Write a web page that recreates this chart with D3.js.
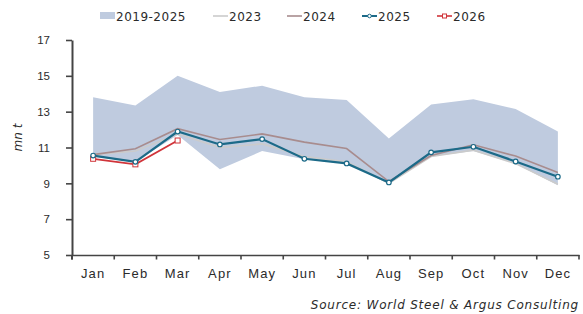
<!DOCTYPE html>
<html>
<head>
<meta charset="utf-8">
<script src="https://cdn.jsdelivr.net/npm/d3@7"></script>
<style>
  body { margin: 0; background: #fff; }
  svg { font-family: "DejaVu Sans", sans-serif; }
</style>
</head>
<body>
<div id="chart"></div>
<script>
// months on the x axis
const months = ["Jan", "Feb", "Mar", "Apr", "May", "Jun", "Jul", "Aug", "Sep", "Oct", "Nov", "Dec"];
// 2019-2025 range band
const rangeHigh = [13.8, 13.35, 15.0, 14.1, 14.45, 13.8, 13.65, 11.5, 13.4, 13.7, 13.15, 11.9];
const rangeLow = [10.5, 10.2, 11.7, 9.78, 10.8, 10.35, 10.1, 9.0, 10.5, 10.8, 10.1, 8.9];
// yearly lines
const y2023 = [10.6, 10.8, 11.75, 11.0, 11.2, 10.5, 10.2, 9.0, 10.5, 10.85, 10.1, 8.95];
const y2024 = [10.6, 10.93, 12.05, 11.45, 11.76, 11.3, 10.94, 9.1, 10.55, 11.15, 10.52, 9.6];
const y2025 = [10.55, 10.2, 11.89, 11.17, 11.47, 10.37, 10.11, 9.05, 10.73, 11.04, 10.22, 9.37];
const y2026 = [10.37, 10.06, 11.39];
const yTicks = [5, 7, 9, 11, 13, 15, 17];

const width = 583, height = 314;
const margin = { top: 40, right: 4, bottom: 59, left: 72 };

const colors = {
    band: "#bfcbdf",
    y2023: "#cbcbcb",
    y2024: "#a88c8e",
    y2025: "#1c6a88",
    y2026: "#d0343a"
};

const svg = d3.select("#chart")
    .append("svg")
    .attr("width", width)
    .attr("height", height);

const x = d3.scaleBand()
    .domain(months)
    .range([margin.left, 579]);

const y = d3.scaleLinear()
    .domain([5, 17])
    .range([height - margin.bottom, margin.top]);

const cx = m => x(m) + x.bandwidth() / 2;

// range band
const area = d3.area()
    .x((d, i) => cx(months[i]))
    .y0((d, i) => y(rangeLow[i]))
    .y1(d => y(d));

svg.append("path")
    .datum(rangeHigh)
    .attr("d", area)
    .attr("fill", colors.band);

const line = d3.line()
    .x((d, i) => cx(months[i]))
    .y(d => y(d));

svg.append("path").datum(y2023).attr("d", line)
    .attr("fill", "none").attr("stroke", colors.y2023).attr("stroke-width", 1.6);
svg.append("path").datum(y2024).attr("d", line)
    .attr("fill", "none").attr("stroke", colors.y2024).attr("stroke-width", 1.6);
svg.append("path").datum(y2026).attr("d", line)
    .attr("fill", "none").attr("stroke", colors.y2026).attr("stroke-width", 1.8);
svg.append("path").datum(y2025).attr("d", line)
    .attr("fill", "none").attr("stroke", colors.y2025).attr("stroke-width", 2.2);

// markers
svg.append("g")
    .selectAll("rect")
    .data(y2026)
    .join("rect")
    .attr("x", (d, i) => cx(months[i]) - 2.5)
    .attr("y", d => y(d) - 2.5)
    .attr("width", 5)
    .attr("height", 5)
    .attr("fill", "#fff")
    .attr("stroke", colors.y2026)
    .attr("stroke-width", 1);

svg.append("g")
    .selectAll("circle")
    .data(y2025)
    .join("circle")
    .attr("cx", (d, i) => cx(months[i]))
    .attr("cy", d => y(d))
    .attr("r", 2.3)
    .attr("fill", "#fff")
    .attr("stroke", colors.y2025)
    .attr("stroke-width", 1.2);

// axes
const xAxis = g => g
    .attr("transform", `translate(0, ${y(5)})`)
    .call(d3.axisBottom(x).tickSize(0).tickPadding(14))
    .call(g => g.select(".domain").attr("stroke", "#444").attr("stroke-width", 1.6))
    .call(g => g.selectAll(".tick text")
        .attr("font-size", 13)
        .attr("letter-spacing", 1.1)
        .attr("fill", "#2b2b2b"));

svg.append("g").call(xAxis);

// tick marks on band edges
svg.append("g")
    .selectAll("line")
    .data(months.concat(["end"]))
    .join("line")
    .attr("x1", (d, i) => i < months.length ? x(d) : x(months[11]) + x.bandwidth())
    .attr("x2", (d, i) => i < months.length ? x(d) : x(months[11]) + x.bandwidth())
    .attr("y1", y(5))
    .attr("y2", y(5) + 4.5)
    .attr("stroke", "#444")
    .attr("stroke-width", 1.6);

const yAxis = g => g
    .attr("transform", `translate(${margin.left}, 0)`)
    .call(d3.axisLeft(y).tickValues(yTicks).tickSize(6).tickPadding(16).tickSizeOuter(0))
    .call(g => g.select(".domain").attr("stroke", "#444").attr("stroke-width", 2))
    .call(g => g.selectAll(".tick line").attr("stroke", "#444").attr("stroke-width", 1.6))
    .call(g => g.selectAll(".tick text").attr("font-size", 11.5).attr("fill", "#2b2b2b"));

svg.append("g").call(yAxis);

// extend y axis down to tick length
svg.append("line")
    .attr("x1", margin.left).attr("x2", margin.left)
    .attr("y1", y(5)).attr("y2", y(5) + 4.5)
    .attr("stroke", "#444").attr("stroke-width", 2);

// y axis title
svg.append("text")
    .attr("transform", `translate(22, ${y(11) - 10}) rotate(-90)`)
    .attr("text-anchor", "middle")
    .attr("font-size", 12)
    .attr("font-style", "italic")
    .attr("fill", "#2b2b2b")
    .text("mn t");

// legend
const legend = svg.append("g").attr("font-size", 12).attr("fill", "#2b2b2b");
const legendItems = [
    { name: "2019-2025", type: "band", x: 100 },
    { name: "2023", type: "y2023", x: 213 },
    { name: "2024", type: "y2024", x: 287 },
    { name: "2025", type: "y2025", x: 362 },
    { name: "2026", type: "y2026", x: 437 }
];
legendItems.forEach(it => {
    const g = legend.append("g").attr("transform", `translate(${it.x}, 16)`);
    if (it.type === "band") {
        g.append("rect").attr("x", 0).attr("y", -4).attr("width", 15).attr("height", 7).attr("fill", colors.band);
    } else {
        g.append("line").attr("x1", 0).attr("x2", 15).attr("y1", 0).attr("y2", 0)
            .attr("stroke", colors[it.type]).attr("stroke-width", it.type === "y2025" ? 2 : 1.6);
        if (it.type === "y2025") {
            g.append("circle").attr("cx", 7.5).attr("cy", 0).attr("r", 1.8)
                .attr("fill", "#fff").attr("stroke", colors.y2025).attr("stroke-width", 1);
        }
        if (it.type === "y2026") {
            g.append("rect").attr("x", 5.5).attr("y", -2).attr("width", 4).attr("height", 4)
                .attr("fill", "#fff").attr("stroke", colors.y2026).attr("stroke-width", 1);
        }
    }
    g.append("text").attr("x", 16).attr("y", 4.5)
        .attr("letter-spacing", 0.5)
        .text(it.name);
});

// source
svg.append("text")
    .attr("x", 579)
    .attr("y", 309)
    .attr("text-anchor", "end")
    .attr("font-size", 12)
    .attr("font-style", "italic")
    .attr("letter-spacing", 0.8)
    .attr("fill", "#2b2b2b")
    .text("Source: World Steel & Argus Consulting");
</script>
</body>
</html>
